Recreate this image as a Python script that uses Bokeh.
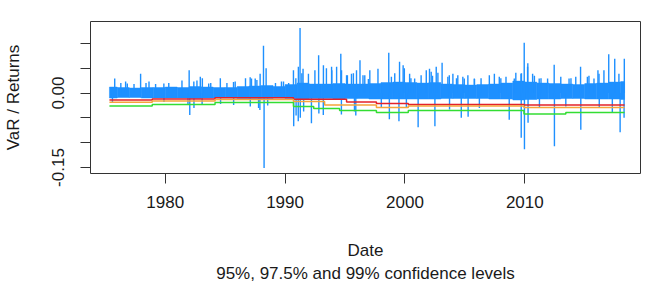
from bokeh.plotting import figure
from bokeh.models import FixedTicker, Range1d, Title
from bokeh.embed import file_html
from bokeh.resources import INLINE

# Typical daily return envelope per calendar year (decimal-year start, high, low)
band_start = [1975.35, 1976, 1977, 1978, 1979, 1980, 1981, 1982, 1983, 1984,
              1985, 1986, 1987, 1988, 1989, 1990, 1991, 1992, 1993, 1994,
              1995, 1996, 1997, 1998, 1999, 2000, 2001, 2002, 2003, 2004,
              2005, 2006, 2007, 2008, 2009, 2010, 2011, 2012, 2013, 2014,
              2015, 2016, 2017, 2018]
band_end = band_start[1:] + [2018.32]
band_hi = [0.012, 0.011, 0.010, 0.011, 0.011, 0.012, 0.011, 0.013, 0.012, 0.011,
           0.011, 0.013, 0.014, 0.015, 0.013, 0.017, 0.020, 0.018, 0.018, 0.019,
           0.018, 0.018, 0.019, 0.021, 0.022, 0.021, 0.020, 0.021, 0.018, 0.017,
           0.016, 0.017, 0.018, 0.020, 0.024, 0.022, 0.020, 0.019, 0.018, 0.017,
           0.019, 0.020, 0.022, 0.023]
band_lo = [-0.010, -0.009, -0.009, -0.010, -0.010, -0.010, -0.010, -0.011, -0.010, -0.010,
           -0.010, -0.011, -0.011, -0.011, -0.010, -0.011, -0.012, -0.011, -0.011, -0.012,
           -0.011, -0.011, -0.012, -0.012, -0.012, -0.012, -0.012, -0.012, -0.011, -0.011,
           -0.011, -0.011, -0.012, -0.012, -0.014, -0.013, -0.012, -0.012, -0.011, -0.011,
           -0.012, -0.012, -0.012, -0.013]

# Notable daily returns (decimal year, return)
spike_t = [1975.60, 1975.79, 1976.30, 1976.70, 1976.84, 1977.40, 1977.95, 1978.40,
           1978.65, 1979.20, 1979.89, 1979.90, 1980.30, 1981.40, 1981.90, 1982.00,
           1982.05, 1982.39, 1982.40, 1982.65, 1982.93, 1983.08, 1983.10, 1983.63,
           1983.80, 1984.60, 1984.62, 1985.15, 1985.70, 1985.71, 1985.84, 1986.70,
           1987.09, 1987.10, 1987.20, 1987.51, 1987.65, 1987.79, 1987.90, 1987.92,
           1988.20, 1988.25, 1988.42, 1988.55, 1989.20, 1989.70, 1989.87, 1990.30,
           1990.70, 1990.72, 1990.90, 1990.92, 1991.10, 1991.11, 1991.25, 1991.27,
           1991.40, 1991.50, 1991.55, 1991.95, 1992.20, 1992.49, 1992.80, 1992.82,
           1993.19, 1993.20, 1993.45, 1993.88, 1993.90, 1994.30, 1994.65, 1994.70,
           1994.71, 1995.13, 1995.20, 1995.54, 1995.70, 1995.79, 1995.90, 1995.96,
           1996.25, 1996.50, 1996.65, 1996.95, 1997.07, 1997.75, 1998.03, 1998.65,
           1998.70, 1998.87, 1999.15, 1999.50, 1999.55, 1999.85, 1999.95, 2000.12,
           2000.39, 2000.50, 2000.81, 2001.10, 2001.35, 2001.78, 2002.05, 2002.19,
           2002.30, 2002.50, 2002.61, 2002.75, 2003.10, 2003.58, 2003.70, 2003.72,
           2004.00, 2004.30, 2004.41, 2004.70, 2004.83, 2004.95, 2005.25, 2005.27,
           2005.79, 2005.80, 2006.21, 2006.35, 2007.04, 2007.46, 2007.87, 2008.00,
           2008.43, 2008.70, 2009.12, 2009.25, 2009.68, 2009.70, 2009.72, 2009.95,
           2009.97, 2010.23, 2010.25, 2010.27, 2010.65, 2010.80, 2011.20, 2011.22,
           2011.35, 2011.90, 2012.45, 2012.47, 2013.00, 2013.42, 2013.69, 2013.85,
           2014.25, 2014.65, 2014.67, 2015.22, 2015.35, 2015.77, 2016.10, 2016.19,
           2016.21, 2016.60, 2017.00, 2017.30, 2017.50, 2017.85, 2017.95, 2018.28,
           2018.30]
spike_v = [-0.020, 0.029, 0.020, 0.023, 0.019, 0.018, 0.039, 0.020,
           0.023, 0.018, 0.019, -0.018, 0.020, 0.025, -0.022, 0.046,
           -0.044, 0.023, -0.030, 0.025, 0.033, -0.024, 0.030, 0.019,
           0.020, 0.030, -0.022, 0.020, 0.022, -0.024, 0.023, 0.030,
           0.032, -0.027, 0.029, 0.029, 0.026, -0.030, -0.034, 0.039,
           0.095, -0.151, 0.050, -0.025, 0.020, 0.023, 0.023, 0.020,
           0.046, -0.067, 0.030, -0.045, -0.057, 0.053, 0.131, -0.050,
           0.040, 0.049, -0.037, 0.039, -0.061, 0.046, 0.076, -0.041,
           -0.044, 0.056, 0.050, 0.053, 0.046, 0.053, 0.079, -0.043,
           0.046, 0.036, 0.036, 0.039, 0.040, -0.037, -0.045, 0.046,
           0.066, 0.036, 0.036, 0.028, 0.046, 0.049, -0.030, 0.081,
           -0.053, 0.033, 0.040, -0.057, 0.063, 0.056, 0.050, -0.030,
           0.039, 0.030, 0.029, -0.069, 0.036, 0.046, 0.049, 0.043,
           0.035, -0.067, 0.053, 0.041, 0.061, 0.033, 0.036, -0.033,
           0.039, 0.030, 0.036, -0.050, 0.033, 0.029, 0.036, -0.048,
           0.029, 0.028, -0.030, 0.030, 0.036, 0.039, 0.033, 0.030,
           0.033, -0.054, 0.029, 0.041, 0.039, -0.090, 0.040, 0.101,
           -0.113, 0.053, 0.060, -0.060, 0.039, 0.035, 0.029, -0.030,
           0.030, 0.029, 0.057, -0.107, 0.033, -0.027, 0.029, 0.030,
           0.033, 0.053, -0.074, 0.033, 0.035, 0.029, 0.046, 0.039,
           -0.030, 0.046, 0.078, -0.040, 0.069, 0.039, -0.079, -0.050,
           0.069]

# Value-at-Risk step levels (re-estimated at each break date)
var_t = [1975.35, 1978.92, 1984.16, 1990.70, 1992.39, 1993.30, 1994.55, 1995.13,
         1997.62, 2000.28, 2009.93, 2013.42, 2018.32]
var95 = [-0.014, -0.012, -0.0093, -0.0127, -0.0127, -0.0127, -0.0127, -0.018,
         -0.021, -0.023, -0.024, -0.024, -0.024]
var975 = [-0.0187, -0.016, -0.013, -0.0173, -0.0173, -0.024, -0.024, -0.024,
          -0.029, -0.026, -0.029, -0.029, -0.029]
var99 = [-0.026, -0.023, -0.019, -0.027, -0.031, -0.031, -0.035, -0.035,
         -0.039, -0.035, -0.042, -0.039, -0.039]

x_ticks = [1980, 1990, 2000, 2010]
y_ticks = [-0.15, -0.10, -0.05, 0.00, 0.05, 0.10]
y_labels = {-0.15: "-0.15", -0.1: "", -0.05: "", 0: "0.00", 0.05: "", 0.1: ""}

FONT = "Liberation Sans"
FS = "17px"
INK = "#1a1a1a"

p = figure(width=645, height=281, output_backend="svg", toolbar_location=None,
           x_range=Range1d(1973.77, 2019.65), y_range=Range1d(-0.162, 0.144),
           min_border_left=88, min_border_right=5, min_border_top=21,
           min_border_bottom=107)
p.background_fill_color = "white"
p.border_fill_color = "white"
p.outline_line_color = "#333333"
p.outline_line_width = 1
p.grid.visible = False

blue = "#1E90FF"
p.quad(left=band_start, right=band_end, bottom=band_lo, top=band_hi,
       fill_color=blue, line_color=blue, line_width=0.5)
p.segment(x0=spike_t, y0=[0] * len(spike_t), x1=spike_t, y1=spike_v,
          line_color=blue, line_width=1.4)

p.step(x=var_t, y=var95, mode="after", line_color="#E3222A", line_width=1.5)
p.step(x=var_t, y=var975, mode="after", line_color="#F5A53A", line_width=1.5)
p.step(x=var_t, y=var99, mode="after", line_color="#33DD33", line_width=1.5)

for ax in (p.xaxis[0], p.yaxis[0]):
    ax.axis_line_color = None
    ax.major_tick_line_color = "#333333"
    ax.major_tick_out = 10
    ax.major_tick_in = 0
    ax.minor_tick_line_color = None
    ax.major_label_text_font = FONT
    ax.major_label_text_font_size = FS
    ax.major_label_text_color = INK
    ax.axis_label_text_font = FONT
    ax.axis_label_text_font_size = FS
    ax.axis_label_text_color = INK
    ax.axis_label_text_font_style = "normal"

p.xaxis.ticker = FixedTicker(ticks=x_ticks)
p.xaxis.axis_label = "Date"
p.xaxis.major_label_standoff = 12
p.xaxis.axis_label_standoff = 30

p.yaxis.ticker = FixedTicker(ticks=y_ticks)
p.yaxis.major_label_overrides = y_labels
p.yaxis.major_label_orientation = "vertical"
p.yaxis.axis_label = "VaR / Returns"
p.yaxis.major_label_standoff = 16
p.yaxis.axis_label_standoff = 27

sub = Title(text="95%, 97.5% and 99% confidence levels", align="center",
            text_font=FONT, text_font_size=FS, text_color=INK,
            text_font_style="normal", standoff=-2)
p.add_layout(sub, "below")

open("out.html", "w").write(file_html(p, INLINE))
